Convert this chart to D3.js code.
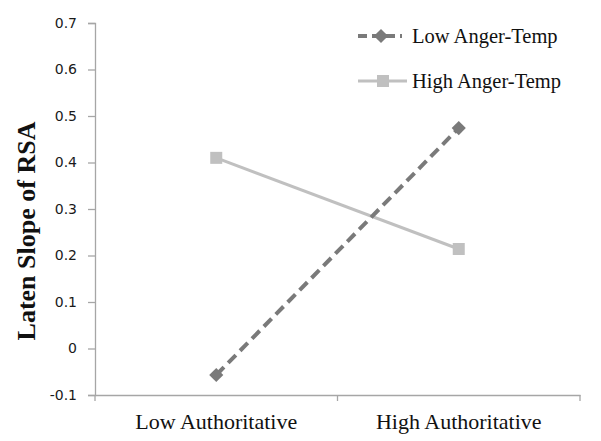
<!DOCTYPE html>
<html><head><meta charset="utf-8">
<script src="https://cdn.jsdelivr.net/npm/d3@7"></script>
<style>body{margin:0;background:#fff}
.yt text{font-family:'DejaVu Sans', Verdana, sans-serif !important;font-size:14px !important;fill:#1a1a1a}</style>
</head><body>
<svg id="c" width="601" height="441"></svg>
<script>
const categories = ["Low Authoritative", "High Authoritative"];
const seriesNames = ["Low Anger-Temp", "High Anger-Temp"];
const lowAnger = [-0.057, 0.474];
const highAnger = [0.41, 0.214];
const yTicks = [-0.1, 0, 0.1, 0.2, 0.3, 0.4, 0.5, 0.6, 0.7];

const svg = d3.select("#c");
const m = {l: 95, r: 21, t: 23, b: 46};
const W = 601, H = 441;
const x = d3.scaleBand().domain(categories).range([m.l, W - m.r]);
const y = d3.scaleLinear().domain([-0.1, 0.7]).range([H - m.b, m.t]);
const axisColor = "#a6a6a6";

// y axis
const ya = svg.append("g").attr("class", "yt").attr("transform", `translate(${m.l},0)`)
  .call(d3.axisLeft(y).tickValues(yTicks).tickSize(7).tickPadding(11)
    .tickFormat(d => d === 0 ? "0" : d3.format(".1f")(d).replace("\u2212", "-")));
ya.attr("font-size", 14).attr("font-family", "'DejaVu Sans', sans-serif");
ya.selectAll("path,line").attr("stroke", axisColor).attr("stroke-width", 1.3);

// x axis
const xa = svg.append("g").attr("transform", `translate(0,${H - m.b})`)
  .call(d3.axisBottom(x).tickSize(0).tickPadding(0));
xa.select("path").attr("stroke", axisColor).attr("stroke-width", 1.3);
xa.selectAll("text").attr("dy", null).attr("y", 34)
  .attr("font-family", "'Times New Roman', 'Liberation Serif', serif")
  .attr("font-size", 22).attr("fill", "#111");
// category boundary ticks
const bounds = [m.l, x(categories[1]), W - m.r];
svg.append("g").selectAll("line").data(bounds).join("line")
  .attr("x1", d => d).attr("x2", d => d)
  .attr("y1", H - m.b).attr("y2", H - m.b + 6)
  .attr("stroke", axisColor).attr("stroke-width", 1.3);

// y title
svg.append("text")
  .attr("transform", `translate(35,${(m.t + H - m.b) / 2 + 22}) rotate(-90)`)
  .attr("text-anchor", "middle")
  .attr("font-family", "'Times New Roman', 'Liberation Serif', serif")
  .attr("font-weight", "bold").attr("font-size", 26).attr("fill", "#111")
  .text("Laten Slope of RSA");

const cx = c => x(c) + x.bandwidth() / 2;
const line = d3.line().x((d, i) => cx(categories[i])).y(d => y(d));

// High anger series
svg.append("path").datum(highAnger).attr("d", line)
  .attr("fill", "none").attr("stroke", "#c0c0c0").attr("stroke-width", 3);
svg.append("g").selectAll("rect").data(highAnger).join("rect")
  .attr("x", (d, i) => cx(categories[i]) - 6).attr("y", d => y(d) - 6)
  .attr("width", 12).attr("height", 12).attr("fill", "#c0c0c0");

// Low anger series
svg.append("path").datum(lowAnger).attr("d", line)
  .attr("fill", "none").attr("stroke", "#7a7a7a").attr("stroke-width", 4)
  .attr("stroke-dasharray", "11,6");
const diamond = d3.symbol().type(d3.symbolSquare).size(100);
svg.append("g").selectAll("path").data(lowAnger).join("path")
  .attr("d", diamond)
  .attr("transform", (d, i) => `translate(${cx(categories[i])},${y(d)}) rotate(45)`)
  .attr("fill", "#7a7a7a");

// legend
const lg = svg.append("g");
const legY = [36, 81];
lg.append("line").attr("x1", 358).attr("x2", 402).attr("y1", legY[0]).attr("y2", legY[0])
  .attr("stroke", "#7a7a7a").attr("stroke-width", 4).attr("stroke-dasharray", "9,5");
lg.append("path").attr("d", diamond).attr("transform", `translate(381,${legY[0]}) rotate(45)`).attr("fill", "#7a7a7a");
lg.append("line").attr("x1", 358).attr("x2", 407).attr("y1", legY[1]).attr("y2", legY[1])
  .attr("stroke", "#c0c0c0").attr("stroke-width", 3);
lg.append("rect").attr("x", 377).attr("y", legY[1] - 6).attr("width", 12).attr("height", 12).attr("fill", "#c0c0c0");
lg.selectAll("text").data(seriesNames).join("text")
  .attr("x", 412).attr("y", (d, i) => legY[i] + 7)
  .attr("font-family", "'Times New Roman', 'Liberation Serif', serif")
  .attr("font-size", 20.5).attr("fill", "#111").text(d => d);
</script>
</body></html>
